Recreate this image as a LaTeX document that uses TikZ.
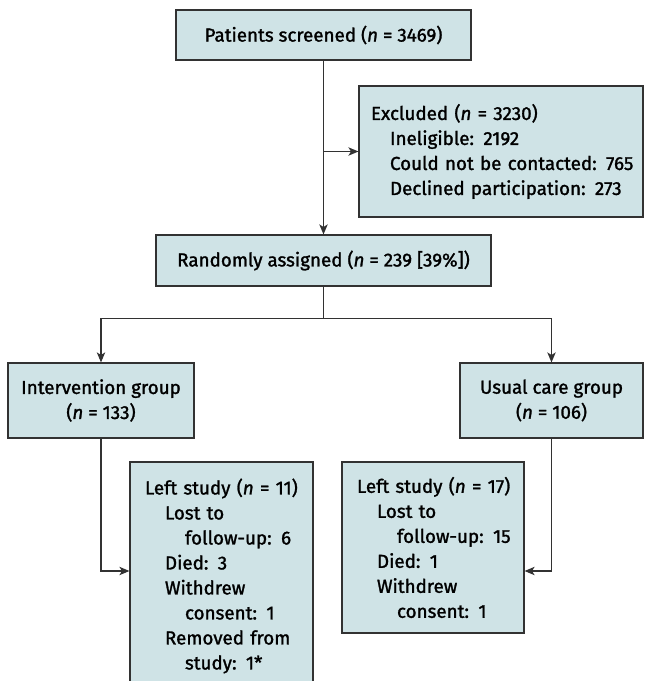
\documentclass[tikz,border=0pt]{standalone}
\usepackage{fontspec}
\setmainfont{Fira Sans}[FakeBold=1.4]
\usetikzlibrary{arrows.meta,calc,positioning}
\definecolor{boxfill}{RGB}{207,227,230}
\definecolor{boxline}{RGB}{50,50,50}
\tikzset{>={Stealth[length=5pt,width=4.2pt,inset=1.3pt]}}
\tikzset{flowbox/.style={draw=boxline, line width=0.6pt, fill=boxfill,
    inner ysep=0pt, font=\fontsize{9.4}{12.5}\selectfont}}
\tikzset{listbox/.style={flowbox, align=left, inner xsep=6pt}}
\tikzset{flowline/.style={draw=boxline, line width=0.55pt}}

\begin{document}
\begin{tikzpicture}[x=0.5pt, y=-0.5pt]
  \useasboundingbox (0,0) rectangle (645,681);
  % boxes, placed at pixel positions
  \node[flowbox, align=center, minimum width=147.5pt, minimum height=25pt]
    (screen) at (323.5,35) {Patients screened (\textit{n} = 3469)};
  \node[listbox, text width=130pt, minimum height=65.5pt]
    (excl) at (501,151.5) {\mbox{Excluded (\textit{n} = 3230)}\\
      \hspace*{9.5pt}\mbox{Ineligible: 2192}\\
      \hspace*{9.5pt}\mbox{Could not be contacted: 765}\\
      \hspace*{9.5pt}\mbox{Declined participation: 273}};
  \node[flowbox, align=center, minimum width=167.5pt, minimum height=25.5pt]
    (rand) at (323.5,260.5) {Randomly assigned (\textit{n} = 239 [39\%])};
  \node[flowbox, align=center, minimum width=93pt, minimum height=37.5pt]
    (interv) at (101,400.5) {Intervention group\\(\textit{n} = 133)};
  \node[flowbox, align=center, minimum width=91.5pt, minimum height=37.5pt]
    (usual) at (551.5,400.5) {Usual care group\\(\textit{n} = 106)};
  \node[listbox, inner xsep=7.5pt, text width=76.5pt, minimum height=114pt]
    (leftI) at (221.5,576) {\mbox{Left study (\textit{n} = 11)}\\
      \hspace*{10pt}\mbox{Lost to}\\
      \hspace*{20pt}\mbox{follow-up: 6}\\
      \hspace*{10pt}\mbox{Died: 3}\\
      \hspace*{10pt}\mbox{Withdrew}\\
      \hspace*{20pt}\mbox{consent: 1}\\
      \hspace*{10pt}\mbox{Removed from}\\
      \hspace*{20pt}\mbox{study: 1*}};
  \node[listbox, inner xsep=7.5pt, text width=76pt, minimum height=85.5pt]
    (leftU) at (433,547.5) {\mbox{Left study (\textit{n} = 17)}\\
      \hspace*{10pt}\mbox{Lost to}\\
      \hspace*{20pt}\mbox{follow-up: 15}\\
      \hspace*{10pt}\mbox{Died: 1}\\
      \hspace*{10pt}\mbox{Withdrew}\\
      \hspace*{20pt}\mbox{consent: 1}};
  % connectors
  \coordinate (split) at ($(rand.south)+(0,32)$);
  \draw[flowline, ->] (screen.south) -- (rand.north);
  \draw[flowline, ->] (screen.south |- excl.west) -- (excl.west);
  \draw[flowline] (rand.south) -- (split);
  \draw[flowline, ->] (split) -| (interv.north);
  \draw[flowline, ->] (split) -| (usual.north);
  \draw[flowline, ->] (interv.south) |- ([yshift=2.5pt]leftI.west);
  \draw[flowline, ->] (usual.south) |- ([yshift=-11.75pt]leftU.east);
\end{tikzpicture}
\end{document}
